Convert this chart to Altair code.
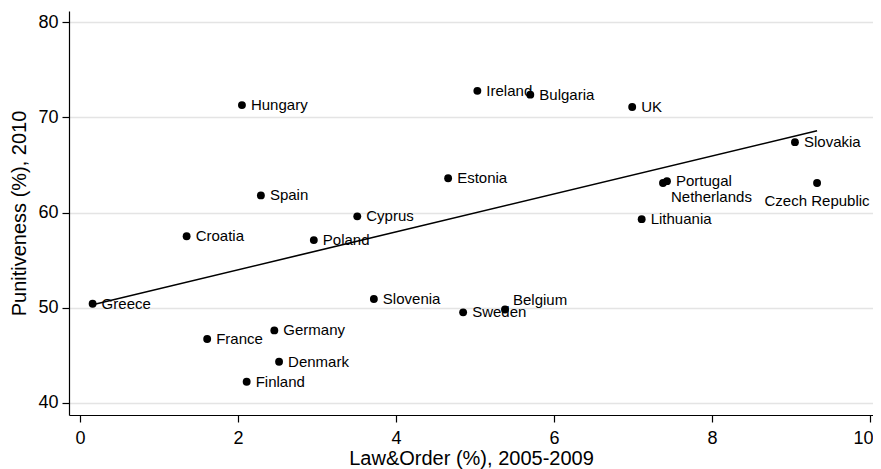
import altair as alt
import pandas as pd

countries = ["Greece", "Hungary", "Spain", "Croatia", "France", "Germany", "Denmark",
             "Finland", "Poland", "Cyprus", "Slovenia", "Estonia", "Ireland", "Bulgaria",
             "Sweden", "Belgium", "UK", "Portugal", "Netherlands", "Lithuania",
             "Slovakia", "Czech Republic"]
law_order = [0.16, 2.05, 2.29, 1.35, 1.61, 2.46, 2.52, 2.11, 2.96, 3.51, 3.72, 4.66,
             5.03, 5.70, 4.85, 5.38, 6.99, 7.43, 7.38, 7.11, 9.05, 9.33]
punitiveness = [50.4, 71.3, 61.8, 57.5, 46.7, 47.6, 44.3, 42.2, 57.1, 59.6, 50.9, 63.6,
                72.8, 72.4, 49.5, 49.8, 71.1, 63.3, 63.1, 59.3, 67.4, 63.1]

fit_x = [0.16, 9.33]
fit_y = [50.3, 68.6]

x_ticks = [0, 2, 4, 6, 8, 10]
y_ticks = [40, 50, 60, 70, 80]

below_right = ["Netherlands"]
below = ["Czech Republic"]
above_right = ["Belgium"]

df = pd.DataFrame({"country": countries, "x": law_order, "y": punitiveness})
fit = pd.DataFrame({"x": fit_x, "y": fit_y})

FONT = "Liberation Sans"

xs = alt.Scale(domain=[-0.139, 10.038], nice=False, zero=False)
ys = alt.Scale(domain=[38.7, 81.2], nice=False, zero=False)

xenc = alt.X("x:Q", scale=xs, axis=alt.Axis(
    values=x_ticks, format="d", title="Law&Order (%), 2005-2009", grid=False,
    domainColor="black", domainWidth=1.2, tickColor="black", tickSize=7, tickWidth=1.2,
    labelFontSize=18, labelPadding=7, labelColor="black", labelFont=FONT,
    labelOffset=alt.expr("datum.value == 10 ? -7 : 0"),
    titleFontSize=20, titleFontWeight="normal", titleColor="black", titleFont=FONT,
    titlePadding=1, labelFlush=False))
yenc = alt.Y("y:Q", scale=ys, axis=alt.Axis(
    values=y_ticks, format="d", title="Punitiveness (%), 2010", grid=True,
    gridColor="#e4e4e4", gridWidth=1.5,
    domainColor="black", domainWidth=1.2, tickColor="black", tickSize=7, tickWidth=1.2,
    labelFontSize=18, labelPadding=4, labelColor="black", labelFont=FONT,
    titleFontSize=20, titleFontWeight="normal", titleColor="black", titleFont=FONT,
    titlePadding=8))

base = alt.Chart(df)

points = base.mark_circle(size=62, color="black", opacity=1).encode(x=xenc, y=yenc)

line = alt.Chart(fit).mark_line(color="black", strokeWidth=1.6).encode(
    x=alt.X("x:Q", scale=xs), y=alt.Y("y:Q", scale=ys))

txt = dict(font=FONT, fontSize=15, color="black")

others = below_right + below + above_right
lab_right = base.transform_filter(
    ~alt.FieldOneOfPredicate(field="country", oneOf=others)
).mark_text(align="left", baseline="middle", dx=9, dy=0, **txt).encode(
    x=alt.X("x:Q", scale=xs), y=alt.Y("y:Q", scale=ys), text="country:N")

lab_br = base.transform_filter(
    alt.FieldOneOfPredicate(field="country", oneOf=below_right)
).mark_text(align="left", baseline="middle", dx=8, dy=14, **txt).encode(
    x=alt.X("x:Q", scale=xs), y=alt.Y("y:Q", scale=ys), text="country:N")

lab_b = base.transform_filter(
    alt.FieldOneOfPredicate(field="country", oneOf=below)
).mark_text(align="center", baseline="middle", dx=0, dy=18, **txt).encode(
    x=alt.X("x:Q", scale=xs), y=alt.Y("y:Q", scale=ys), text="country:N")

lab_ar = base.transform_filter(
    alt.FieldOneOfPredicate(field="country", oneOf=above_right)
).mark_text(align="left", baseline="middle", dx=8, dy=-9, **txt).encode(
    x=alt.X("x:Q", scale=xs), y=alt.Y("y:Q", scale=ys), text="country:N")

chart = alt.layer(points, line, lab_right, lab_br, lab_b, lab_ar).properties(
    width=804, height=404,
    autosize=alt.AutoSizeParams(type="none"),
    padding={"left": 61, "top": 3, "right": 0, "bottom": 54},
    background="white",
).configure_view(stroke=None)

chart.save("out.html", embed_options={"renderer": "svg", "actions": False})
